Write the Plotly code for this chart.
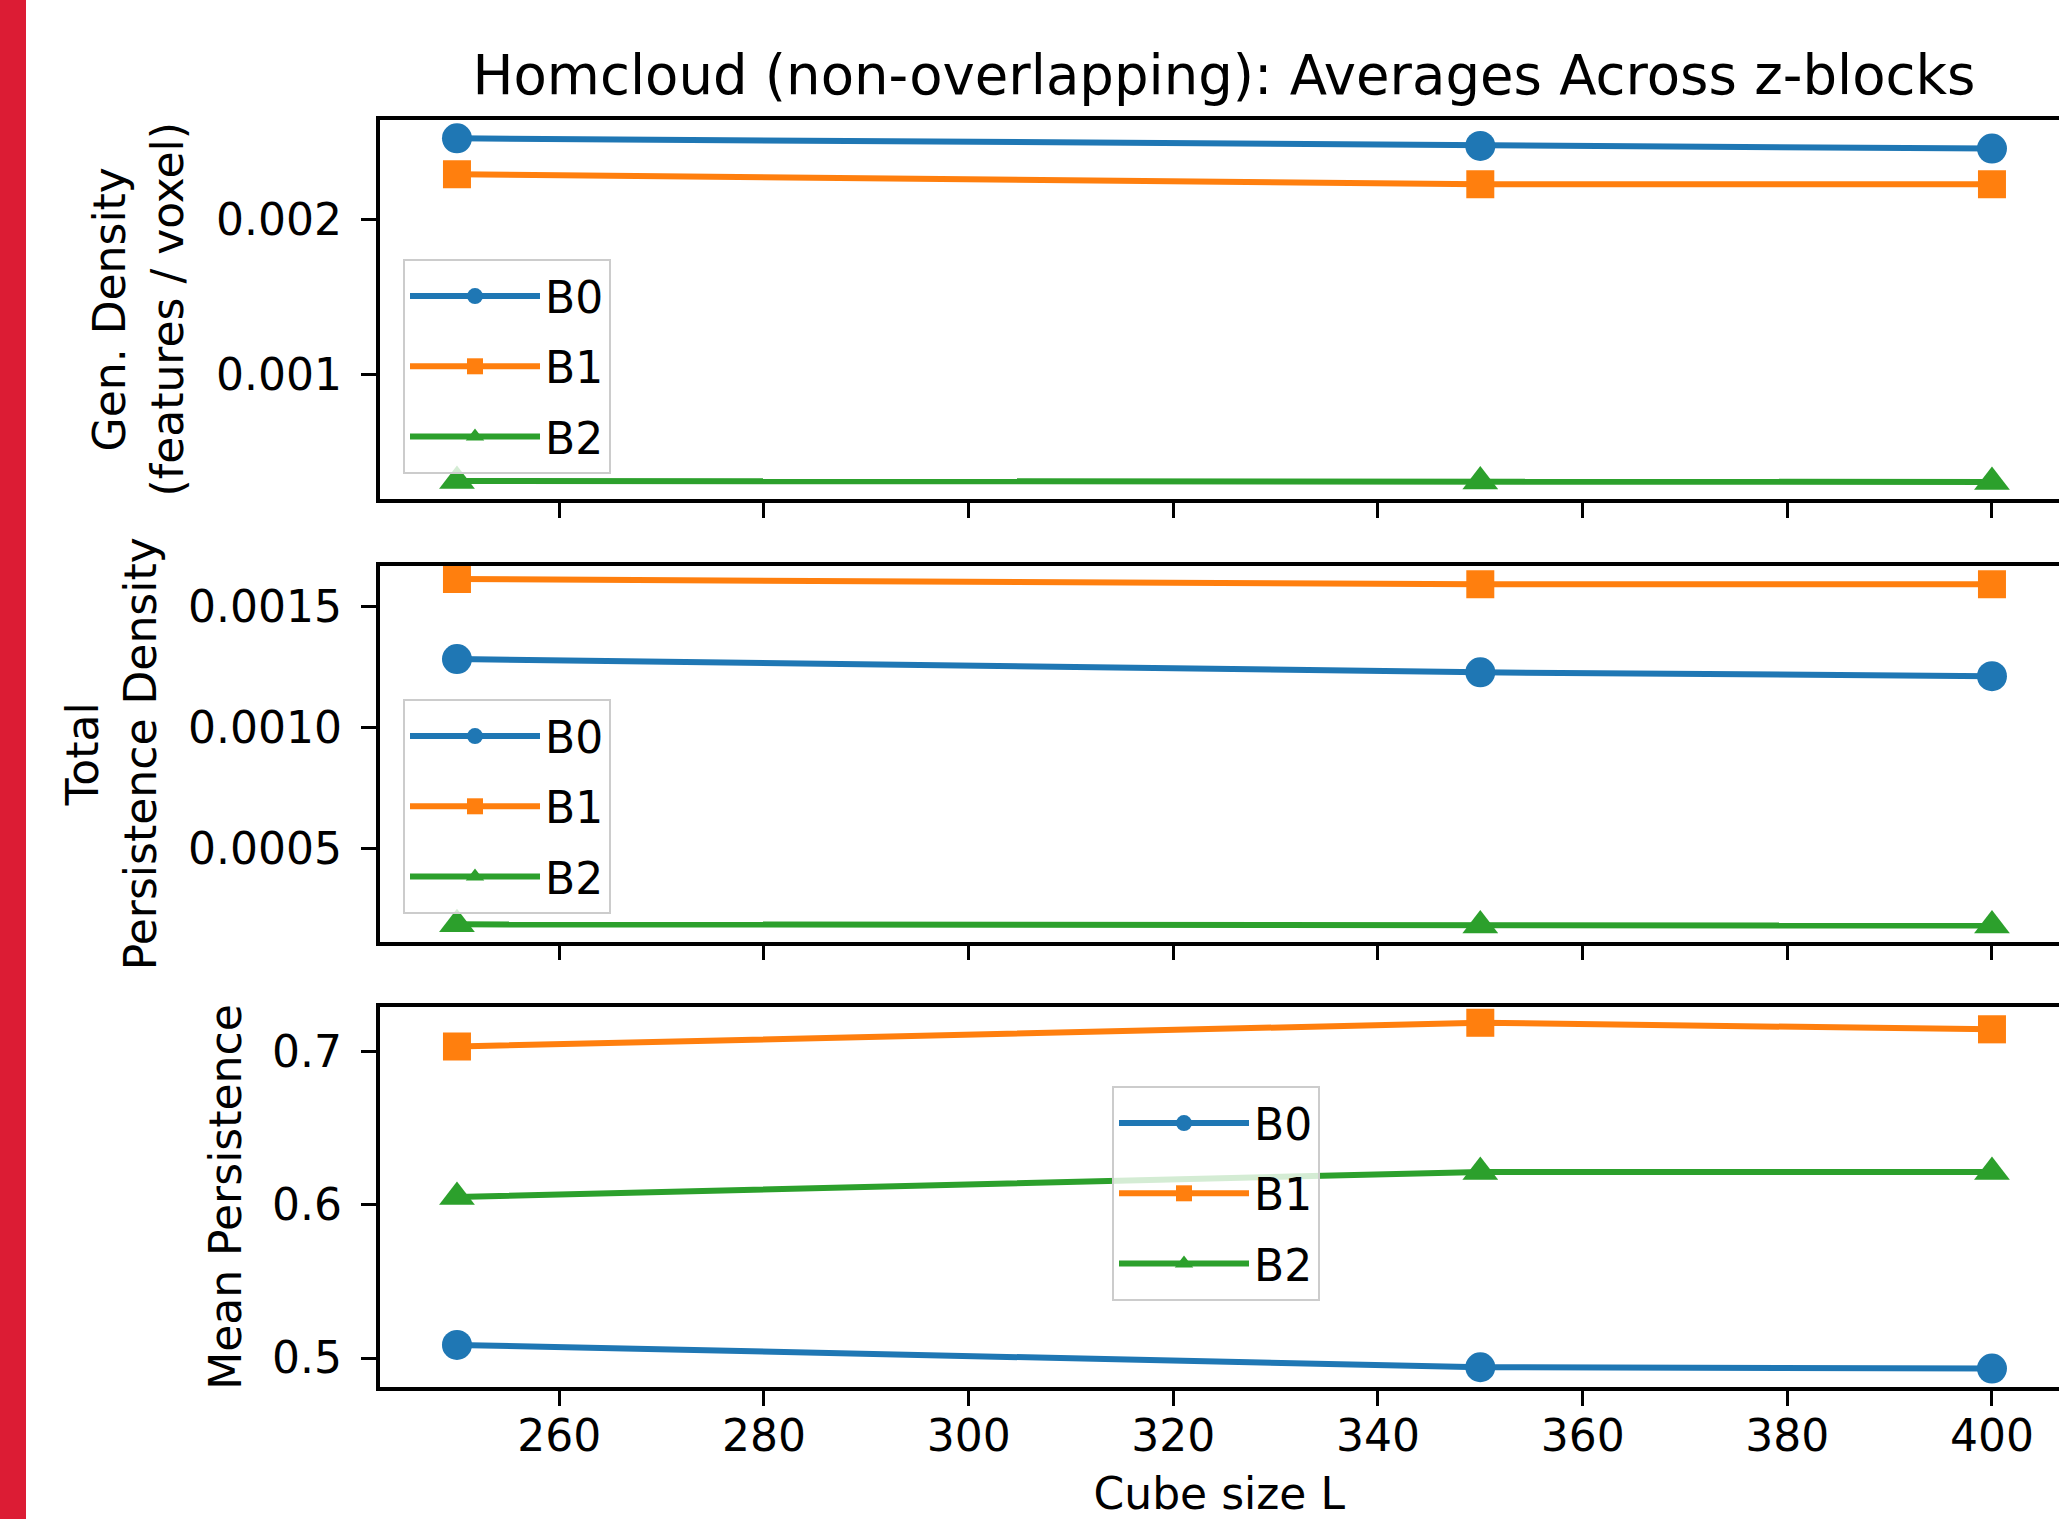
import plotly.graph_objects as go

# ---------------- data ----------------
cube_size_L = [250, 350, 400]
series_names = ["B0", "B1", "B2"]

gen_density_B0 = [0.002528, 0.002479, 0.002462]
gen_density_B1 = [0.002296, 0.002231, 0.002231]
gen_density_B2 = [0.000312, 0.000308, 0.000305]

total_pers_B0 = [0.001283, 0.001228, 0.001212]
total_pers_B1 = [0.001614, 0.001592, 0.001592]
total_pers_B2 = [0.000185, 0.000180, 0.000180]

mean_pers_B0 = [0.5086, 0.4940, 0.4931]
mean_pers_B1 = [0.7034, 0.7189, 0.7146]
mean_pers_B2 = [0.6052, 0.6215, 0.6215]

x_tick_values = [260, 280, 300, 320, 340, 360, 380, 400]

title_text = "Homcloud (non-overlapping): Averages Across z-blocks"
y_titles = ["Gen. Density<br>(features / voxel)", "Total<br>Persistence Density", "Mean Persistence"]
x_title = "Cube size L"

# ---------------- styles ----------------
W, H = 2059, 1519
colors = ["#1f77b4", "#ff7f0e", "#2ca02c"]
symbols = ["circle", "square", "triangle-up"]
msizes = [30, 28, 31]
FONT = "DejaVu Sans"
FS = 44

panels = [
    [gen_density_B0, gen_density_B1, gen_density_B2],
    [total_pers_B0, total_pers_B1, total_pers_B2],
    [mean_pers_B0, mean_pers_B1, mean_pers_B2],
]

fig = go.Figure()
legend_ids = ["legend", "legend2", "legend3"]
for p, vals in enumerate(panels):
    suffix = "" if p == 0 else str(p + 1)
    for i, name in enumerate(series_names):
        fig.add_trace(go.Scatter(
            x=cube_size_L, y=vals[i], name=name,
            mode="lines+markers",
            line=dict(color=colors[i], width=6),
            marker=dict(symbol=symbols[i], size=msizes[i], color=colors[i]),
            xaxis="x" + suffix, yaxis="y" + suffix,
            legend=legend_ids[p], legendgroup=f"{name}_{p}",
        ))

# pixel geometry (margins are zero, so paper fractions are pixel fractions)
left_px = 379.5
panel_px = [(119.5, 499.0), (566.0, 941.5), (1007.0, 1387.0)]
y_ranges = [[0.000195, 0.00265], [0.000114, 0.001668], [0.4811, 0.7292]]
y_dticks = [0.001, 0.0005, 0.1]
y_formats = [".3f", ".4f", ".1f"]
y_standoffs = [20, 19, 18]
x_range = [242.43, 406.55]

axis_font = dict(family=FONT, size=FS, color="black")
layout = dict(
    width=W, height=H,
    margin=dict(l=0, r=0, t=0, b=0, autoexpand=False),
    paper_bgcolor="white", plot_bgcolor="white",
    font=dict(family=FONT, size=FS, color="black"),
    title=dict(text=title_text, x=1224 / W, xanchor="center",
               y=1 - 75 / H, yanchor="middle", yref="container",
               font=dict(family=FONT, size=54.5, color="black")),
    showlegend=True,
)

for p in range(3):
    suffix = "" if p == 0 else str(p + 1)
    top, bot = panel_px[p]
    layout["xaxis" + suffix] = dict(
        domain=[left_px / W, 1.0], range=x_range, anchor="y" + suffix,
        tickmode="array", tickvals=x_tick_values, automargin=False,
        showticklabels=(p == 2), ticks="outside", ticklen=15, tickwidth=3,
        tickcolor="black", showline=True, linecolor="black", linewidth=3.5,
        mirror=True, showgrid=False, zeroline=False,
        tickfont=axis_font, ticklabelstandoff=-8,
        title=dict(text=x_title if p == 2 else "", font=axis_font, standoff=32),
    )
    layout["yaxis" + suffix] = dict(
        domain=[1 - bot / H, 1 - top / H], range=y_ranges[p], anchor="x" + suffix,
        tick0=0, dtick=y_dticks[p], tickformat=y_formats[p], automargin=False,
        ticks="outside", ticklen=15, tickwidth=3, tickcolor="black",
        showline=True, linecolor="black", linewidth=3.5, mirror=False,
        showgrid=False, zeroline=False, tickfont=axis_font, ticklabelstandoff=10,
        title=dict(text=y_titles[p], font=axis_font, standoff=y_standoffs[p]),
    )

legend_boxes = [(403, 259), (403, 699), (1112, 1086)]
for p, lid in enumerate(legend_ids):
    lx, ly = legend_boxes[p]
    layout[lid] = dict(
        x=lx / W, y=1 - ly / H, xanchor="left", yanchor="top",
        xref="paper", yref="paper",
        bgcolor="rgba(255,255,255,0.8)", bordercolor="#cccccc", borderwidth=2,
        font=dict(family=FONT, size=FS, color="black"),
        tracegroupgap=10, itemwidth=130,
    )

fig.update_layout(**layout)

# red strip on the left edge
fig.add_shape(type="rect", xref="paper", yref="paper", x0=0, x1=26 / W, y0=0, y1=1,
              fillcolor="#dc1c34", line=dict(width=0), layer="above")

fig.write_html("out.html")
